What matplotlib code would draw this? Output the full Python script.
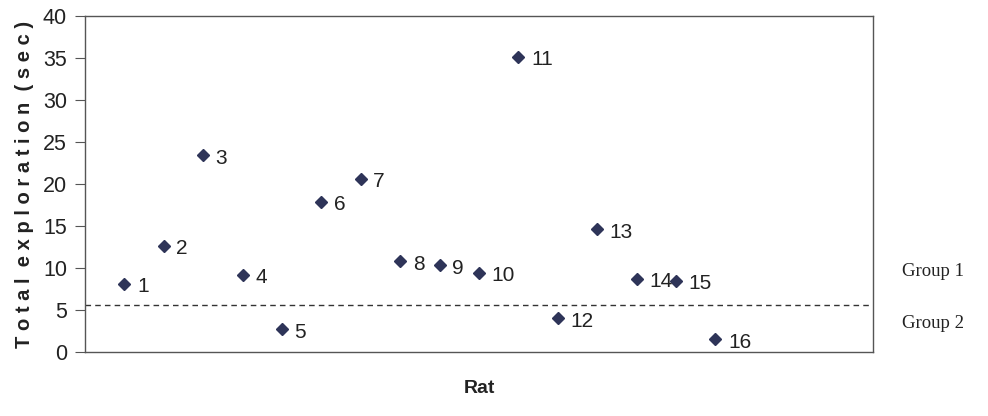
import matplotlib.pyplot as plt
from matplotlib import font_manager

rats = list(range(1, 17))
exploration = [8.1, 12.6, 23.4, 9.2, 2.7, 17.9, 20.6, 10.8, 10.3, 9.4,
               35.1, 4.0, 14.6, 8.7, 8.5, 1.5]
cutoff = 5.6
group_labels = ['Group 1', 'Group 2']

installed = {f.name for f in font_manager.fontManager.ttflist}
sans = 'Liberation Sans Narrow' if 'Liberation Sans Narrow' in installed else 'Liberation Sans'
plt.rcParams['font.family'] = sans

fig = plt.figure(figsize=(9.88, 4.16), dpi=100)
ax = fig.add_axes([85 / 988, 1 - 352 / 416, 788 / 988, 336 / 416])

ax.plot(rats, exploration, linestyle='none', marker='D', markersize=6.3,
        color='#2e3458')
for r, v in zip(rats, exploration):
    ax.annotate(str(r), (r, v), xytext=(9, -2), textcoords='offset points',
                va='center', ha='left', fontsize=15, color='#222222')

ax.axhline(cutoff, color='#333333', linestyle=(0, (4, 3)), linewidth=1)

ax.set_xlim(0, 20)
ax.set_ylim(0, 40)
ax.set_yticks(range(0, 41, 5))
ax.set_xticks([])
ax.tick_params(axis='y', direction='out', length=7, width=0.8, pad=6,
               labelsize=15.5, color='#555555', labelcolor='#222222')
for s in ax.spines.values():
    s.set_color('#555555')
    s.set_linewidth(1.0)

ax.set_ylabel('T o t a l  e x p l o r a t i o n  ( s e c )', family='Liberation Sans',
              fontsize=14.5, fontweight='bold', color='#222222', labelpad=6)
ax.set_xlabel('Rat', fontsize=14, fontweight='bold', color='#222222',
              labelpad=20)

fig.text(902 / 988, 1 - 272 / 416, group_labels[0], family='Liberation Serif',
         fontsize=13.5, va='center', ha='left', color='#222222')
fig.text(902 / 988, 1 - 323 / 416, group_labels[1], family='Liberation Serif',
         fontsize=13.5, va='center', ha='left', color='#222222')

fig.savefig('out.png', dpi=100)
